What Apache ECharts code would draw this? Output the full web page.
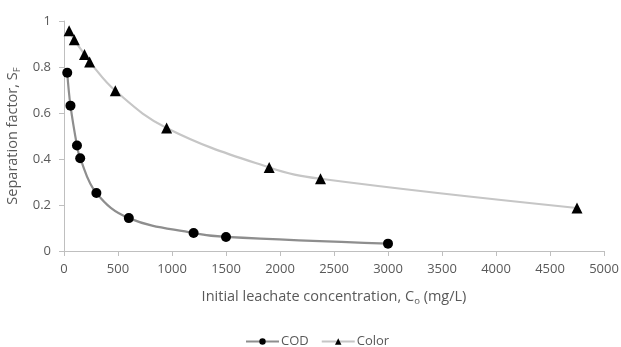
<!DOCTYPE html>
<html>
<head>
<meta charset="utf-8">
<script src="https://cdn.jsdelivr.net/npm/echarts@6/dist/echarts.min.js"></script>
<style>
  html, body { margin: 0; padding: 0; background: #fff; }
  #chart { width: 621px; height: 347px; }
</style>
</head>
<body>
<div id="chart"></div>
<script>
// COD: concentration (mg/L) vs separation factor
var codX = [30, 60, 120, 150, 300, 600, 1200, 1500, 3000];
var codY = [0.775, 0.632, 0.459, 0.403, 0.252, 0.143, 0.078, 0.061, 0.032];

// Color
var colorX = [47.5, 95, 190, 237.5, 475, 950, 1900, 2375, 4750];
var colorY = [0.958, 0.919, 0.854, 0.822, 0.697, 0.535, 0.363, 0.314, 0.187];

var xTicks = { min: 0, max: 5000, step: 500 };
var yTicks = { min: 0, max: 1, step: 0.2 };

var pairs = function (xs, ys) {
    return xs.map(function (x, i) { return [x, ys[i]]; });
};

var txt = '#595959';
var axisCol = '#bfbfbf';
var fontFam = '"Open Sans", sans-serif';

var chart = echarts.init(document.getElementById('chart'));
chart.setOption({
    animation: false,
    textStyle: { fontFamily: fontFam, fontSize: 13 },
    grid: { left: 64, right: 17, top: 21, bottom: 96, outerBoundsMode: 'none' },
    xAxis: {
        type: 'value',
        min: xTicks.min, max: xTicks.max, interval: xTicks.step,
        name: '{a|Initial leachate concentration, C}{s|o}{a| (mg/L)}',
        nameLocation: 'middle',
        nameGap: 37,
        nameTextStyle: {
            fontSize: 14.5,
            rich: {
                a: { fontSize: 14.5, color: txt, fontFamily: fontFam },
                s: { fontSize: 9.5, color: txt, fontFamily: fontFam, padding: [8, 0, 0, 0] }
            }
        },
        axisLine: { lineStyle: { color: axisCol } },
        axisTick: { show: true, length: 5, lineStyle: { color: axisCol } },
        axisLabel: {
            color: txt, fontSize: 13, margin: 12,
            formatter: function (v) { return String(v); }
        },
        splitLine: { show: false }
    },
    yAxis: {
        type: 'value',
        min: yTicks.min, max: yTicks.max, interval: yTicks.step,
        name: '{a|Separation factor, S}{s|F}',
        nameLocation: 'middle',
        nameGap: 39,
        nameRotate: 90,
        nameTextStyle: {
            fontSize: 14.5,
            rich: {
                a: { fontSize: 14.5, color: txt, fontFamily: fontFam },
                s: { fontSize: 9.5, color: txt, fontFamily: fontFam, padding: [8, 0, 0, 0] }
            }
        },
        axisLine: { show: true, lineStyle: { color: axisCol } },
        axisTick: { show: true, length: 5, lineStyle: { color: axisCol } },
        axisLabel: { color: txt, fontSize: 13, margin: 13 },
        splitLine: { show: false }
    },
    legend: {
        top: 330,
        left: 240,
        itemWidth: 33,
        itemHeight: 8,
        itemGap: 12,
        textStyle: { color: txt, fontSize: 13, padding: [0, 0, 0, -3] },
        data: ['COD', 'Color']
    },
    series: [
        {
            name: 'COD',
            type: 'line',
            data: pairs(codX, codY),
            smooth: 0.4,
            symbol: 'circle',
            symbolSize: 10,
            itemStyle: { color: '#000' },
            lineStyle: { color: '#8e8e8e', width: 2.2 }
        },
        {
            name: 'Color',
            type: 'line',
            data: pairs(colorX, colorY),
            smooth: 0.4,
            symbol: 'triangle',
            symbolSize: 11,
            itemStyle: { color: '#000' },
            lineStyle: { color: '#c6c6c6', width: 2.2 }
        }
    ]
});
</script>
</body>
</html>
